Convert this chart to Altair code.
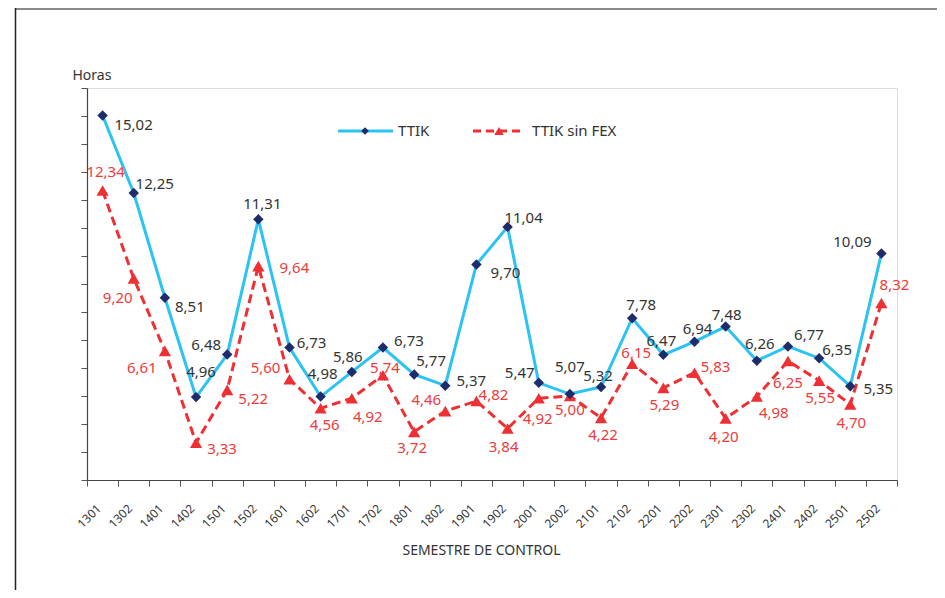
import altair as alt
import pandas as pd

semestres = ["1301", "1302", "1401", "1402", "1501", "1502", "1601", "1602", "1701", "1702",
             "1801", "1802", "1901", "1902", "2001", "2002", "2101", "2102", "2201", "2202",
             "2301", "2302", "2401", "2402", "2501", "2502"]
ttik = [15.02, 12.25, 8.51, 4.96, 6.48, 11.31, 6.73, 4.98, 5.86, 6.73, 5.77, 5.37, 9.70,
        11.04, 5.47, 5.07, 5.32, 7.78, 6.47, 6.94, 7.48, 6.26, 6.77, 6.35, 5.35, 10.09]
ttik_sin_fex = [12.34, 9.20, 6.61, 3.33, 5.22, 9.64, 5.60, 4.56, 4.92, 5.74, 3.72, 4.46, 4.82,
                3.84, 4.92, 5.00, 4.22, 6.15, 5.29, 5.83, 4.20, 4.98, 6.25, 5.55, 4.70, 8.32]

# label nudges (pixels) for the value annotations
ttik_label_dx = [31, 21, 25, 5, -21, 4, 22, 2, -4, 26, 17, 26, 29, 16, -19, 0, -3, 9, -2, 3, 1, 3, 21, 18, 28, -29]
ttik_label_dy = [10, -9, 9, -25, -10, -15, -5, -23, -15, -7, -13, -5, 9, -9, -10, -27, -11, -13, -14, -13, -12, -17, -11, -8, 3, -11]
fex_label_dx = [3, -16, -23, 26, 26, 36, -24, 4, 16, 2, -2, -19, 17, -4, -1, 0, 2, 4, 1, 21, -2, 17, 0, 1, 1, 13]
fex_label_dy = [-18, 20, 17, 6, 9, 2, -11, 17, 19, -7, 16, -11, -6, 19, 21, 14, 17, -11, 17, -6, 19, 16, 22, 17, 19, -18]

FONT = "Noto Sans"
CYAN = "#2BC3F2"
NAVY = "#1F2C6B"
RED = "#EE3035"
RED_TXT = "#EE3B3B"
DARK = "#333333"


def fmt(v):
    return f"{v:.2f}".replace(".", ",")


df_a = pd.DataFrame({"semestre": semestres, "valor": ttik, "txt": [fmt(v) for v in ttik]})
df_b = pd.DataFrame({"semestre": semestres, "valor": ttik_sin_fex, "txt": [fmt(v) for v in ttik_sin_fex]})

x_enc = alt.X("semestre:N", sort=semestres, bandPosition=0.5,
              scale=alt.Scale(type="band", paddingInner=0, paddingOuter=0),
              axis=alt.Axis(title="SEMESTRE DE CONTROL", titleFont=FONT, titleFontSize=14,
                            titleFontWeight="normal", titleColor=DARK, titlePadding=14,
                            titleX=394, titleAlign="center",
                            labelAngle=-45, labelAlign="right", labelBaseline="middle",
                            labelFont=FONT, labelFontSize=12, labelColor=DARK, labelPadding=20,
                            labelOffset=-4,
                            tickBand="extent", tickSize=6, tickColor="#555", domainColor="#444",
                            domainWidth=1.2))
y_enc = alt.Y("valor:Q", scale=alt.Scale(domain=[2, 16], nice=False, zero=False),
              axis=alt.Axis(title="Horas", titleAngle=0, titleX=-15, titleY=-13,
                            titleAlign="left", titleBaseline="middle", titleFont=FONT,
                            titleFontSize=14, titleFontWeight="normal", titleColor=DARK,
                            values=list(range(2, 17)), labels=False, tickSize=6,
                            tickColor="#555", domainColor="#444", domainWidth=1.2, grid=False))

base_a = alt.Chart(df_a)
base_b = alt.Chart(df_b)

line_b = base_b.mark_line(color=RED, strokeWidth=3, strokeDash=[9, 5]).encode(x=x_enc, y=y_enc)
line_a = base_a.mark_line(color=CYAN, strokeWidth=3).encode(x=x_enc, y=y_enc)
pts_b = base_b.mark_point(shape="triangle-up", filled=True, color=RED, size=150, opacity=1).encode(x=x_enc, y=y_enc)
pts_a = base_a.mark_point(shape="diamond", filled=True, color=NAVY, size=110, opacity=1).encode(x=x_enc, y=y_enc)

labels = []
for base, dxs, dys, col in ((base_a, ttik_label_dx, ttik_label_dy, DARK),
                            (base_b, fex_label_dx, fex_label_dy, RED_TXT)):
    for s, dx, dy in zip(semestres, dxs, dys):
        labels.append(
            base.transform_filter(alt.datum.semestre == s)
            .mark_text(font=FONT, fontSize=15, color=col, baseline="middle", align="center", dx=dx, dy=dy)
            .encode(x=x_enc, y=y_enc, text="txt:N")
        )

# manual legend
one = pd.DataFrame({"k": [0]})
leg = [
    alt.Chart(one).mark_rule(color=CYAN, strokeWidth=3).encode(
        x=alt.value(251), x2=alt.value(306), y=alt.value(43)),
    alt.Chart(one).mark_point(shape="diamond", filled=True, color=NAVY, size=60, opacity=1).encode(
        x=alt.value(278), y=alt.value(43)),
    alt.Chart(one).mark_text(text="TTIK", font=FONT, fontSize=15, color=DARK, align="left",
                             baseline="middle").encode(x=alt.value(311), y=alt.value(43)),
    alt.Chart(one).mark_rule(color=RED, strokeWidth=3, strokeDash=[8, 5]).encode(
        x=alt.value(386), x2=alt.value(437), y=alt.value(43)),
    alt.Chart(one).mark_point(shape="triangle-up", filled=True, color=RED, size=90, opacity=1).encode(
        x=alt.value(412), y=alt.value(43)),
    alt.Chart(one).mark_text(text="TTIK sin FEX", font=FONT, fontSize=15, color=DARK, align="left",
                             baseline="middle").encode(x=alt.value(445), y=alt.value(43)),
    # outer frame
    alt.Chart(one).mark_rule(color="#8a8a8a", strokeWidth=2).encode(
        x=alt.value(-72), x2=alt.value(850), y=alt.value(-79)),
    alt.Chart(one).mark_rule(color="#222222", strokeWidth=1.5).encode(
        x=alt.value(-71.5), y=alt.value(-80), y2=alt.value(540)),
]

chart = alt.layer(line_b, line_a, pts_b, pts_a, *labels, *leg).properties(
    width=810, height=392,
    autosize=alt.AutoSizeParams(type="none"),
    padding={"left": 79, "top": 80, "right": 40, "bottom": 110},
).configure_view(stroke=None).configure(background="white")

chart.save("out.html", embed_options={"renderer": "svg", "actions": False})
